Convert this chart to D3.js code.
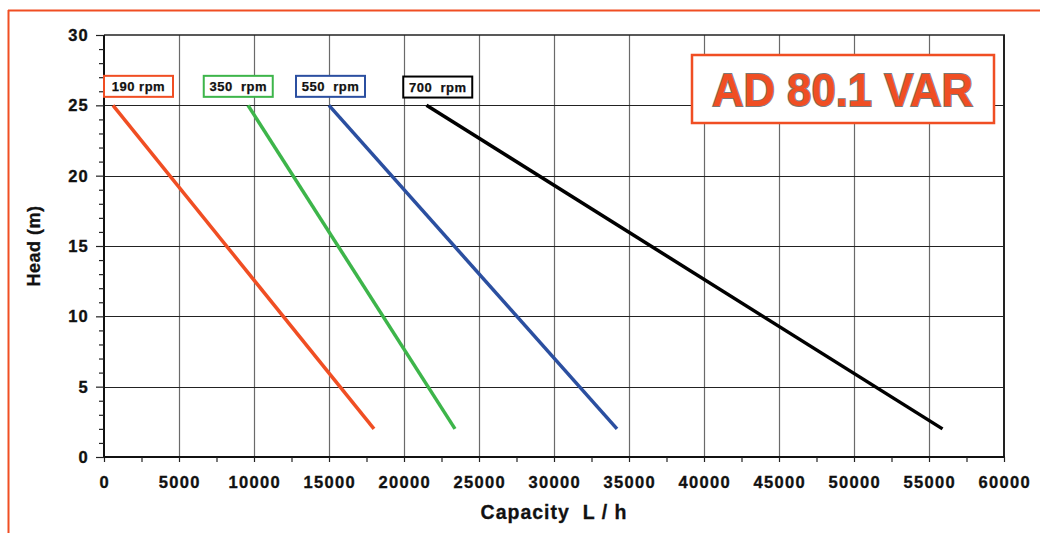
<!DOCTYPE html>
<html><head><meta charset="utf-8">
<script src="https://cdn.jsdelivr.net/npm/d3@7"></script>
<style>
html,body{margin:0;padding:0;background:#fff;}
svg{display:block;font-family:"Liberation Sans",Arial,Helvetica,sans-serif;}
</style></head>
<body>
<svg id="chart" width="1040" height="533"></svg>
<script>
// ---- data ----
const seriesNames = ["190 rpm", "350  rpm", "550  rpm", "700  rpm"];
const seriesColors = ["#F04E23", "#3DB54A", "#2B4FA0", "#000000"];
const capacityStart = [600, 9600, 15000, 21500];   // L/h at head 25 m
const capacityEnd = [18000, 23400, 34200, 55900];  // L/h at head 2 m
const headStart = [25, 25, 25, 25];
const headEnd = [2, 2, 2, 2];
const labelCapacity = [2300, 8950, 15100, 22250];  // label anchor (L/h)
const labelHead = [26.35, 26.35, 26.35, 26.3];
const xTicks = [0, 5000, 10000, 15000, 20000, 25000, 30000, 35000, 40000, 45000, 50000, 55000, 60000];
const yTicks = [0, 5, 10, 15, 20, 25, 30];
const titleText = "AD 80.1 VAR";
const xTitle = "Capacity  L / h";
const yTitle = "Head (m)";

// ---- layout ----
const svg = d3.select("#chart");
const L = 104, R = 1004, T = 35, B = 457;
const x = d3.scaleLinear().domain([0, 60000]).range([L, R]);
const y = d3.scaleLinear().domain([0, 30]).range([B, T]);

// outer orange frame (top & left visible)
svg.append("line").attr("x1", 8).attr("x2", 1040).attr("y1", 10.5).attr("y2", 10.5)
  .attr("stroke", "#F04E23").attr("stroke-width", 2);
svg.append("line").attr("x1", 8.5).attr("x2", 8.5).attr("y1", 10).attr("y2", 533)
  .attr("stroke", "#F04E23").attr("stroke-width", 2);

// grid
const g = svg.append("g");
g.selectAll(".vg").data(xTicks.slice(1, -1)).join("line")
  .attr("x1", d => x(d) + 0.5).attr("x2", d => x(d) + 0.5).attr("y1", T).attr("y2", B)
  .attr("stroke", "#6a6a6a").attr("stroke-width", 1.2);
g.selectAll(".hg").data(yTicks.slice(1, -1)).join("line")
  .attr("x1", L).attr("x2", R).attr("y1", d => Math.round(y(d)) + 0.5).attr("y2", d => Math.round(y(d)) + 0.5)
  .attr("stroke", "#222").attr("stroke-width", 1);

// frame top & right
svg.append("line").attr("x1", L).attr("x2", R + 1).attr("y1", T).attr("y2", T).attr("stroke", "#222").attr("stroke-width", 1.5);
svg.append("line").attr("x1", R).attr("x2", R).attr("y1", T).attr("y2", B).attr("stroke", "#222").attr("stroke-width", 2);

// axes
const xAxis = d3.axisBottom(x).tickValues(d3.range(0, 60001, 2500)).tickSize(5).tickFormat("");
const gx = svg.append("g").attr("transform", `translate(0,${B})`).call(xAxis);
gx.select(".domain").attr("stroke", "#111").attr("stroke-width", 2).attr("d", `M${L - 1},0H${R + 1}`);
gx.selectAll(".tick line").attr("stroke", "#222").attr("stroke-width", 1.2);
svg.append("g").selectAll("text").data(xTicks).join("text")
  .attr("x", d => x(d) + 0.8).attr("y", B + 31)
  .attr("text-anchor", "middle").attr("font-size", 16.5).attr("font-weight", "bold")
  .attr("letter-spacing", "1.3px").attr("fill", "#111")
  .attr("stroke", "#111").attr("stroke-width", 0.35).text(d => d);

const yAxis = d3.axisLeft(y).tickValues(d3.range(0, 31, 1)).tickSize(5).tickFormat("");
const gy = svg.append("g").attr("transform", `translate(${L},0)`).call(yAxis);
gy.select(".domain").attr("stroke", "#111").attr("stroke-width", 2).attr("d", `M0,${T}V${B + 1}`);
gy.selectAll(".tick line").attr("stroke", "#222").attr("stroke-width", 1.2)
  .attr("x2", d => d % 5 === 0 ? -8 : -5);
svg.append("g").selectAll("text").data(yTicks).join("text")
  .attr("x", 89).attr("y", d => y(d) + 6)
  .attr("text-anchor", "end").attr("font-size", 16.5).attr("font-weight", "bold")
  .attr("letter-spacing", "1.2px").attr("fill", "#111")
  .attr("stroke", "#111").attr("stroke-width", 0.35).text(d => d);

// axis titles
svg.append("text").attr("x", (L + R) / 2).attr("y", 519).attr("text-anchor", "middle")
  .attr("font-size", 19.5).attr("font-weight", "bold").attr("letter-spacing", "1px")
  .attr("fill", "#111").attr("stroke", "#111").attr("stroke-width", 0.3)
  .style("white-space", "pre").text(xTitle);
svg.append("text").attr("transform", `translate(39.5,${(T + B) / 2}) rotate(-90)`).attr("text-anchor", "middle")
  .attr("font-size", 18).attr("font-weight", "bold").attr("letter-spacing", "0.5px")
  .attr("fill", "#111").attr("stroke", "#111").attr("stroke-width", 0.3).text(yTitle);

// series lines
const lineGen = d3.line().x(d => x(d[0])).y(d => y(d[1]));
seriesNames.forEach((name, i) => {
  svg.append("path")
    .attr("d", lineGen([[capacityStart[i], headStart[i]], [capacityEnd[i], headEnd[i]]]))
    .attr("fill", "none").attr("stroke", seriesColors[i]).attr("stroke-width", 3.5);
});

// series labels
seriesNames.forEach((name, i) => {
  const cx = x(labelCapacity[i]), cy = y(labelHead[i]);
  const grp = svg.append("g");
  grp.append("text").attr("x", cx).attr("y", cy + 5).attr("text-anchor", "middle")
    .attr("font-size", 13).attr("font-weight", "bold").attr("letter-spacing", "0.5px")
    .attr("fill", "#111").attr("stroke", "#111").attr("stroke-width", 0.25)
    .style("white-space", "pre").text(name);
  const w = 69, h = 21;
  grp.insert("rect", "text").attr("x", cx - w / 2).attr("y", cy - h / 2).attr("width", w).attr("height", h)
    .attr("fill", "#fff").attr("stroke", seriesColors[i]).attr("stroke-width", 2);
});

// title box
svg.append("rect").attr("x", 692).attr("y", 55).attr("width", 302).attr("height", 68)
  .attr("fill", "#fff").attr("stroke", "#F04E23").attr("stroke-width", 2.5);
svg.append("text").attr("x", 712).attr("y", 106)
  .attr("font-size", 47).attr("font-weight", "bold")
  .attr("textLength", 261).attr("lengthAdjust", "spacingAndGlyphs")
  .attr("fill", "#F04E23").attr("stroke", "#7a7a7a").attr("stroke-width", 1.8)
  .attr("paint-order", "stroke").text(titleText);
</script>
</body></html>
